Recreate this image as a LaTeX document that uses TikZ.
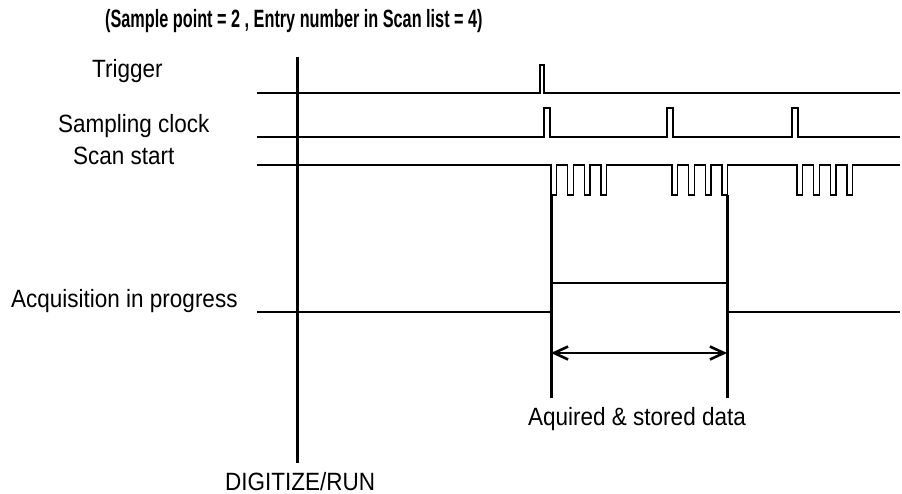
\documentclass[tikz,border=0pt]{standalone}
\usepackage{fontspec}
\setmainfont[FakeStretch=0.9]{Liberation Sans}
\newfontfamily\titlefont[FakeStretch=0.65]{Liberation Sans}
\usepackage{tikz}
\usetikzlibrary{arrows.meta}

\begin{document}
\begin{tikzpicture}[
    x=1pt, y=-1pt,
    lbl/.style={
        anchor=base west,
        inner sep=0pt,
        text depth=0pt,
        font=\fontsize{25}{28}\selectfont
    },
    signal/.style={line width=1.4pt},
    markline/.style={line width=3pt},
    arrow/.style={{Straight Barb[length=14pt,width=13pt,line width=2.6pt]}-{Straight Barb[length=14pt,width=13pt,line width=2.6pt]}, line width=2.8pt}
]
\useasboundingbox (0,0) rectangle (902,494);

% Labels
\node[lbl, font=\fontsize{25}{28}\titlefont\bfseries] (title) at (105,28)
    {(Sample point = 2 , Entry number in Scan list = 4)};
\node[lbl] (trig) at (92,77.5) {Trigger};
\node[lbl] (clk) at (58,133) {Sampling clock};
\node[lbl] (scan) at (73,165) {Scan start};
\node[lbl] (acq) at (11,308) {Acquisition in progress};
\node[lbl] (data) at (528,425) {Aquired \& stored data};
\node[lbl] (run) at (225,490) {DIGITIZE/RUN};

% Trigger
\draw[signal] (257,93) -- (540,93) -- ++(0,-28) -- ++(4,0) -- ++(0,28) -- (900,93);

% Sampling clock
\draw[signal] (257,137) foreach \s in {544,667,792} {
    -- (\s,137) -- ++(0,-29) -- ++(6,0) -- ++(0,29)
} -- (900,137);

% Scan start
\draw[signal] (257,165) foreach \s in {551,672,797} {
    -- (\s,165) foreach \k in {1,...,4} {
        -- ++(0,30) -- ++(5.5,0) -- ++(0,-30) -- ++(11.2,0)
    }
} -- (900,165);

% Acquisition in progress
\draw[signal] (257,312) -- (551,312);
\draw[signal] (551,283) -- (727,283);
\draw[signal] (727,312) -- (900,312);

% Markers
\coordinate (runT) at (297,57);
\coordinate (runB) at (297,463);
\coordinate (acqT) at (551,195);
\coordinate (acqB) at (551,398);
\coordinate (endT) at (727,195);
\coordinate (endB) at (727,398);

\draw[markline] (runT) -- (runB);
\draw[markline] (acqT) -- (acqB);
\draw[markline] (endT) -- (endB);

\draw[arrow] (acqB |- 0,353) -- (endB |- 0,353);

\end{tikzpicture}
\end{document}
